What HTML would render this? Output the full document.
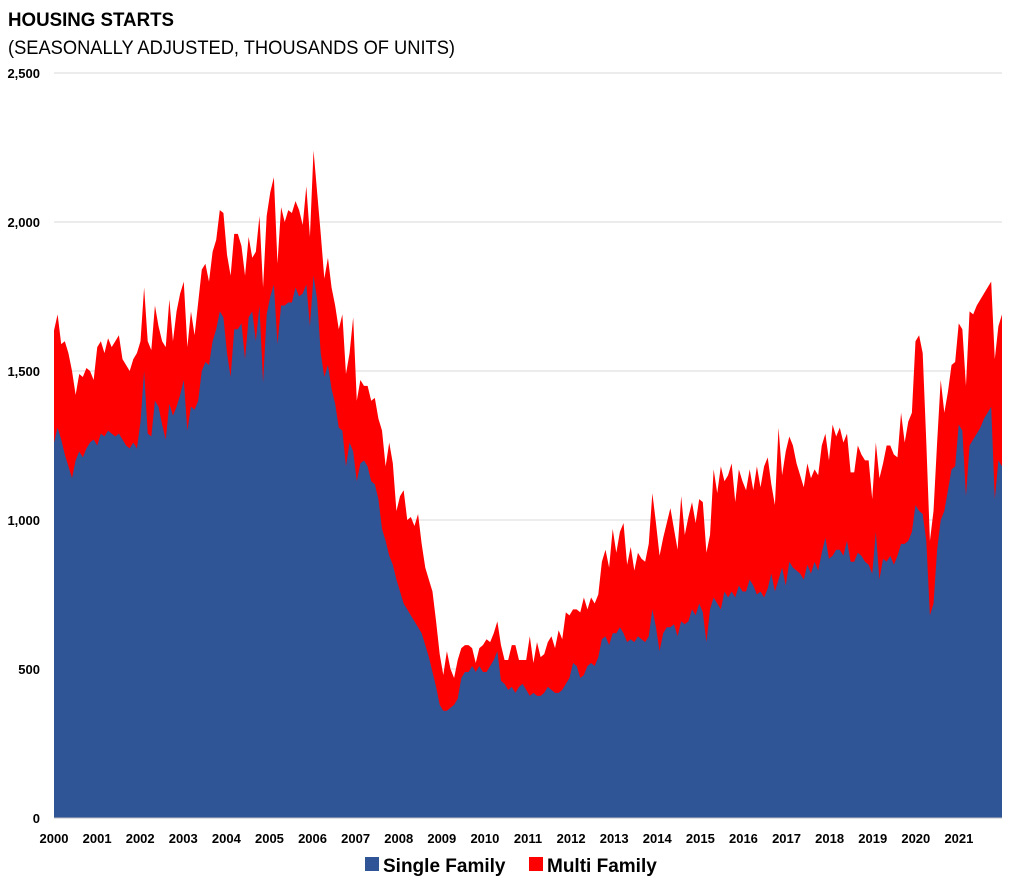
<!DOCTYPE html>
<html><head><meta charset="utf-8"><style>
body{margin:0;background:#fff;font-family:"Liberation Sans",Arial,sans-serif}
svg text{font-family:"Liberation Sans",Arial,sans-serif}
</style></head><body>
<svg id="c" width="1024" height="887">
<text x="8" y="26" font-size="19" font-weight="bold" fill="#000" textLength="166" lengthAdjust="spacingAndGlyphs">HOUSING STARTS</text>
<text x="8" y="54" font-size="19" fill="#000" textLength="447" lengthAdjust="spacingAndGlyphs">(SEASONALLY ADJUSTED, THOUSANDS OF UNITS)</text>
<g id="grid"></g><g id="areas"></g><g id="axes"></g>
<g>
<rect x="365" y="857" width="14" height="14" fill="#2f5597"/>
<text x="383" y="872" font-size="19" font-weight="bold">Single Family</text>
<rect x="529" y="857" width="14" height="14" fill="#ff0000"/>
<text x="547" y="872" font-size="19" font-weight="bold">Multi Family</text>
</g>
</svg>
<script>
const years=["2000","2001","2002","2003","2004","2005","2006","2007","2008","2009","2010","2011","2012","2013","2014","2015","2016","2017","2018","2019","2020","2021"];
const yTicks=[0,500,1000,1500,2000,2500];
const yTickLabels=["0","500","1,000","1,500","2,000","2,500"];
const totalStarts=[
1636,1690,1590,1600,1560,1500,1420,1490,1480,1510,1500,1470,
1580,1600,1560,1610,1580,1600,1620,1540,1520,1500,1540,1560,
1600,1780,1600,1570,1720,1650,1600,1580,1740,1600,1700,1760,
1800,1580,1700,1620,1730,1840,1860,1800,1900,1940,2040,2030,
1890,1820,1960,1960,1920,1820,1950,1880,1900,2020,1780,2020,
2100,2150,1860,2050,2000,2040,2030,2070,2040,1990,2120,1950,
2240,2100,1960,1810,1880,1780,1720,1640,1690,1490,1560,1680,
1400,1470,1450,1450,1400,1410,1340,1300,1180,1260,1190,1030,
1080,1100,1000,1010,980,1020,920,840,800,760,660,550,
480,560,500,470,530,570,580,580,570,520,570,580,
600,590,620,660,580,530,530,580,580,530,530,530,
610,520,590,540,550,590,610,570,630,600,690,680,
700,700,690,740,700,740,720,750,860,900,840,970,
890,960,990,850,910,830,890,870,860,920,1090,990,
880,940,990,1040,970,900,1080,950,1010,1060,990,1070,
1060,890,950,1170,1090,1180,1130,1150,1190,1060,1170,1130,
1100,1170,1100,1180,1110,1180,1210,1120,1050,1310,1150,1230,
1280,1250,1190,1150,1110,1190,1140,1170,1150,1250,1290,1200,
1320,1280,1310,1260,1290,1160,1160,1250,1220,1200,1200,1070,
1260,1140,1190,1250,1250,1220,1210,1360,1260,1330,1360,1600,
1620,1560,1260,930,1030,1260,1470,1360,1430,1520,1530,1660,
1640,1450,1700,1690,1720,1740,1760,1780,1800,1540,1650,1690];
const singleFamily=[
1260,1310,1270,1220,1180,1140,1200,1230,1210,1240,1260,1270,
1250,1290,1280,1300,1290,1280,1290,1270,1250,1240,1260,1240,
1330,1500,1290,1280,1400,1380,1320,1270,1390,1350,1380,1420,
1470,1300,1380,1370,1400,1500,1530,1520,1600,1640,1700,1680,
1560,1480,1640,1640,1660,1540,1680,1700,1600,1720,1460,1690,
1750,1790,1590,1720,1720,1730,1730,1780,1750,1760,1790,1650,
1820,1740,1560,1480,1520,1440,1390,1310,1300,1180,1260,1230,
1130,1190,1200,1180,1130,1120,1070,970,930,880,850,800,
760,720,700,680,660,640,620,580,540,490,440,380,
360,360,370,380,400,470,490,490,510,490,510,490,
490,510,530,560,460,450,430,440,420,440,450,430,
410,420,410,410,420,440,430,420,420,430,450,470,
520,510,470,480,510,520,510,540,600,610,580,620,
620,640,620,590,600,590,610,600,590,610,700,640,
560,620,640,640,650,610,660,650,660,700,680,720,
690,590,700,740,720,700,760,740,760,740,780,760,
760,800,780,750,760,740,770,820,760,800,840,780,
860,840,830,820,800,850,820,860,830,890,940,870,
880,900,900,880,930,860,860,890,880,860,850,820,
960,800,870,860,880,850,880,920,920,930,960,1050,
1030,1020,930,680,720,900,1000,1030,1100,1170,1180,1320,
1300,1080,1250,1270,1290,1310,1340,1360,1380,1070,1200,1180];
const NS="http://www.w3.org/2000/svg";
const X0=54,X1=1002,Y0=818,Ytop=73,YMAX=2500;
const n=totalStarts.length;
function xi(i){return X0+i*(X1-X0)/(n-1);}
function xYear(k){return X0+k*(X1-X0)/years.length;}
function y(v){return Y0-v*(Y0-Ytop)/YMAX;}
function mk(tag,attrs,parent){const e=document.createElementNS(NS,tag);for(const k in attrs)e.setAttribute(k,attrs[k]);parent.appendChild(e);return e;}
const grid=document.getElementById('grid'),areas=document.getElementById('areas'),axes=document.getElementById('axes');
yTicks.forEach((t,i)=>{
 if(t>0){const l=mk('line',{x1:X0,x2:X1,y1:y(t),y2:y(t),stroke:'#d9d9d9','stroke-width':1},grid);
 
 }
 const tx=mk('text',{x:40,y:y(t)+5,'font-size':13,'font-weight':'bold','text-anchor':'end',fill:'#000'},axes);
 tx.textContent=yTickLabels[i];
 
 
});
let pt='',ps='';
for(let i=0;i<n;i++){pt+=(i?'L':'M')+xi(i)+','+y(totalStarts[i]);ps+=(i?'L':'M')+xi(i)+','+y(singleFamily[i]);}
const base='L'+X1+','+Y0+'L'+X0+','+Y0+'Z';
const pm=mk('path',{d:pt+base,fill:'#ff0000'},areas);


const psf=mk('path',{d:ps+base,fill:'#2f5597'},areas);


const ax=mk('line',{x1:X0,x2:X1,y1:Y0,y2:Y0,stroke:'#bfbfbf','stroke-width':1},axes);


years.forEach((yr,k)=>{
 const tx=mk('text',{x:xYear(k),y:843,'font-size':13,'font-weight':'bold','text-anchor':'middle',fill:'#000'},axes);
 tx.textContent=yr;
 
 
});
</script>
</body></html>
